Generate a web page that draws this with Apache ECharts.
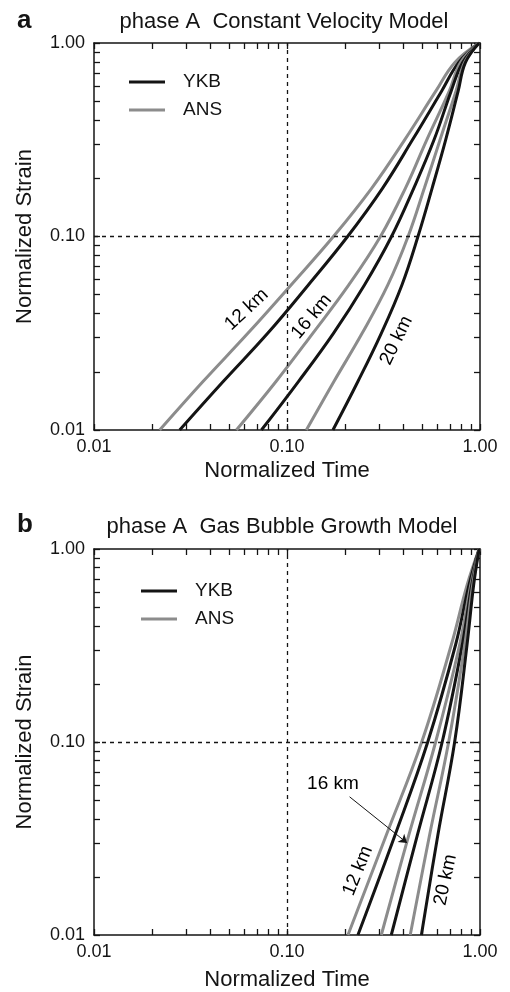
<!DOCTYPE html>
<html><head><meta charset="utf-8">
<script src="https://cdn.jsdelivr.net/npm/echarts@6/dist/echarts.min.js"></script>
<style>html,body{margin:0;padding:0;background:#fff}#c{width:510px;height:992px}</style>
</head><body><div id="c"></div>
<script>
// ---------- DATA ----------
// Panel a: Constant Velocity Model (normalized strain levels and the normalized time of each curve)
const strainA = [0.01, 0.0178, 0.0316, 0.0562, 0.1, 0.178, 0.316, 0.562, 0.794, 1.0];
const timeA_YKB12 = [0.0278, 0.0467, 0.0794, 0.129, 0.206, 0.313, 0.447, 0.631, 0.776, 0.99];
const timeA_ANS12 = [0.0219, 0.0367, 0.0627, 0.105, 0.174, 0.275, 0.407, 0.589, 0.741, 0.99];
const timeA_YKB16 = [0.0737, 0.1146, 0.174, 0.252, 0.348, 0.454, 0.578, 0.708, 0.813, 0.99];
const timeA_ANS16 = [0.0547, 0.0877, 0.136, 0.209, 0.305, 0.411, 0.530, 0.692, 0.794, 0.99];
const timeA_YKB20 = [0.173, 0.233, 0.308, 0.394, 0.477, 0.565, 0.664, 0.770, 0.841, 0.99];
const timeA_ANS20 = [0.126, 0.175, 0.245, 0.333, 0.424, 0.515, 0.621, 0.750, 0.832, 0.99];

// Panel b: Gas Bubble Growth Model
const strainB = [0.01, 0.033, 0.1, 0.32, 0.65, 1.0];
const timeB_YKB12 = [0.233, 0.363, 0.536, 0.748, 0.877, 0.99];
const timeB_ANS12 = [0.207, 0.327, 0.499, 0.711, 0.857, 0.99];
const timeB_YKB16 = [0.347, 0.474, 0.637, 0.810, 0.906, 0.99];
const timeB_ANS16 = [0.308, 0.428, 0.589, 0.785, 0.895, 0.99];
const timeB_YKB20 = [0.497, 0.605, 0.739, 0.857, 0.927, 0.99];
const timeB_ANS20 = [0.435, 0.548, 0.688, 0.834, 0.916, 0.99];

// Axis ticks / labels
const tickMantissas = [1, 2, 3, 4, 5, 6, 7, 8, 9];
const tickDecades = [0.01, 0.1];
const labelValues = [0.01, 0.1, 1.0];
const refValue = 0.1;

// Curve annotations
const annoTextA = ['12 km', '16 km', '20 km'];
const annoTimeA = [0.0617, 0.134, 0.369];
const annoStrainA = [0.0419, 0.0386, 0.029];
const annoAngleA = [43, 50, 64];
const annoTextB = ['16 km', '12 km', '20 km'];
const annoTimeB = [0.173, 0.233, 0.662];
const annoStrainB = [0.0611, 0.0215, 0.0193];
const annoAngleB = [0, 68, 78];
const arrowTimeB = [0.211, 0.419];
const arrowStrainB = [0.052, 0.030];

// ---------- CHART ----------
const L = Math.log10;
const FONT = "'Liberation Sans', Arial, Helvetica, sans-serif";
const INK = '#141414';
const BLACK = '#141414';
const GRAY = '#8c8c8c';

const tickVals = tickDecades.flatMap(d => tickMantissas.map(m => L(m * d))).concat([0]);
const labelVals = labelValues.map(L);

function baseAxis(gi) {
  return {
    type: 'value', gridIndex: gi, min: -2, max: 0,
    splitLine: { show: false },
    axisLine: { show: true, onZero: false, lineStyle: { color: INK, width: 1.5 } },
    axisTick: { show: true, inside: true, length: 6, customValues: tickVals, lineStyle: { color: INK, width: 1.3 } }
  };
}
function xAxes(gi) {
  return [
    Object.assign(baseAxis(gi), {
      position: 'bottom',
      name: 'Normalized Time', nameLocation: 'middle', nameGap: gi === 0 ? 30 : 34,
      nameTextStyle: { fontFamily: FONT, fontSize: 22, color: INK },
      axisLabel: { show: true, customValues: labelVals, margin: 8, fontFamily: FONT, fontSize: 18, color: INK,
        formatter: v => Math.pow(10, v).toFixed(2) }
    }),
    Object.assign(baseAxis(gi), { position: 'top', axisLabel: { show: false } })
  ];
}
function yAxes(gi) {
  return [
    Object.assign(baseAxis(gi), {
      position: 'left',
      name: 'Normalized Strain', nameLocation: 'middle', nameGap: 58,
      nameTextStyle: { fontFamily: FONT, fontSize: 22, color: INK },
      axisLabel: { show: true, customValues: labelVals, margin: 9, fontFamily: FONT, fontSize: 18, color: INK,
        formatter: v => Math.pow(10, v).toFixed(2) }
    }),
    Object.assign(baseAxis(gi), { position: 'right', axisLabel: { show: false } })
  ];
}

function curve(name, times, strains, color, ai) {
  return {
    type: 'line', name, xAxisIndex: ai, yAxisIndex: ai,
    data: times.map((t, i) => [L(t), L(strains[i])]),
    showSymbol: false, symbol: 'none', smooth: 0.4,
    lineStyle: { color, width: 3 }, itemStyle: { color }, z: 3, silent: true
  };
}
function refSeries(ai, texts, times, strains, angles, arrow) {
  const lines = [{ xAxis: L(refValue) }, { yAxis: L(refValue) }];
  const s = {
    type: 'line', xAxisIndex: ai, yAxisIndex: ai, data: [], z: 1, silent: true,
    markLine: {
      silent: true, symbol: 'none', label: { show: false },
      lineStyle: { type: [4, 4], color: INK, width: 1.3 },
      data: lines
    },
    markPoint: {
      silent: true, symbol: 'circle', symbolSize: 0, itemStyle: { color: '#000', opacity: 1 },
      data: texts.map((t, i) => ({
        coord: [L(times[i]), L(strains[i])],
        label: { show: true, position: 'inside', rotate: angles[i], formatter: t,
          fontFamily: FONT, fontSize: 19, color: '#000', textBorderWidth: 0 }
      }))
    }
  };
  if (arrow) {
    s.markLine.data = lines.concat([[
      { coord: [L(arrow.t[0]), L(arrow.s[0])], symbol: 'none', lineStyle: { type: 'solid', width: 1, color: INK } },
      { coord: [L(arrow.t[1]), L(arrow.s[1])], symbol: 'arrow', symbolSize: 8 }
    ]]);
  }
  return s;
}

const series = [
  refSeries(0, annoTextA, annoTimeA, annoStrainA, annoAngleA),
  curve('ANS', timeA_ANS12, strainA, GRAY, 0),
  curve('YKB', timeA_YKB12, strainA, BLACK, 0),
  curve('ANS', timeA_ANS16, strainA, GRAY, 0),
  curve('YKB', timeA_YKB16, strainA, BLACK, 0),
  curve('ANS', timeA_ANS20, strainA, GRAY, 0),
  curve('YKB', timeA_YKB20, strainA, BLACK, 0),
  refSeries(2, annoTextB, annoTimeB, annoStrainB, annoAngleB, { t: arrowTimeB, s: arrowStrainB }),
  curve('ANS', timeB_ANS12, strainB, GRAY, 2),
  curve('YKB', timeB_YKB12, strainB, BLACK, 2),
  curve('ANS', timeB_ANS16, strainB, GRAY, 2),
  curve('YKB', timeB_YKB16, strainB, BLACK, 2),
  curve('ANS', timeB_ANS20, strainB, GRAY, 2),
  curve('YKB', timeB_YKB20, strainB, BLACK, 2)
];

function legend(left, top) {
  return {
    left, top, orient: 'vertical', itemWidth: 36, itemHeight: 3, itemGap: 8,
    selectedMode: false,
    data: [{ name: 'YKB', icon: 'rect', itemStyle: { color: BLACK } }, { name: 'ANS', icon: 'rect', itemStyle: { color: GRAY } }],
    textStyle: { fontFamily: FONT, fontSize: 19, color: INK, lineHeight: 20, padding: [0, 0, 0, 13] }
  };
}

const chart = echarts.init(document.getElementById('c'), null, { renderer: 'canvas' });
chart.setOption({
  animation: false,
  backgroundColor: '#fff',
  grid: [
    { left: 94, top: 43, width: 386, height: 387, containLabel: false },
    { left: 94, top: 549, width: 386, height: 386, containLabel: false }
  ],
  xAxis: xAxes(0).concat(xAxes(1)),
  yAxis: yAxes(0).concat(yAxes(1)),
  legend: [legend(124, 67), legend(136, 576)],
  graphic: [
    { type: 'text', left: 17, top: 8, style: { text: 'a', font: "bold 26px " + FONT, fill: INK } },
    { type: 'text', x: 284, y: 22, style: { text: 'phase A  Constant Velocity Model', font: "22px " + FONT, fill: INK, align: 'center', verticalAlign: 'middle' } },
    { type: 'text', left: 17, top: 512, style: { text: 'b', font: "bold 26px " + FONT, fill: INK } },
    { type: 'text', x: 282, y: 527, style: { text: 'phase A  Gas Bubble Growth Model', font: "22px " + FONT, fill: INK, align: 'center', verticalAlign: 'middle' } }
  ],
  series
});
</script>
</body></html>
